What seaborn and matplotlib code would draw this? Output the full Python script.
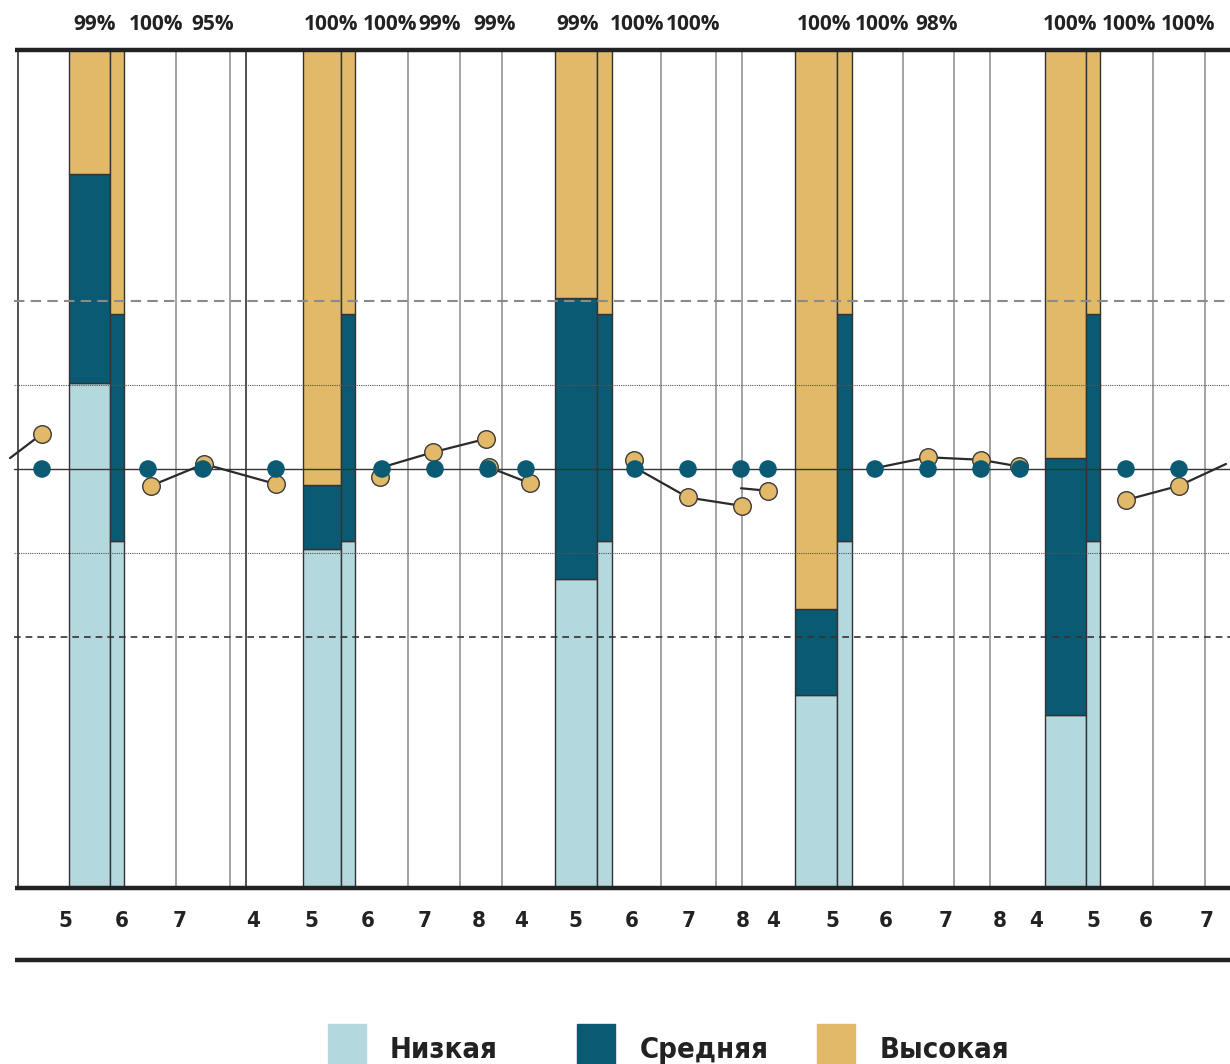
import numpy as np
import pandas as pd
import matplotlib
matplotlib.use('Agg')
import matplotlib.pyplot as plt
import seaborn as sns
from matplotlib.patches import Rectangle

# ---- data (percent) ----
levels = ['Низкая', 'Средняя', 'Высокая']
wide_low = [60.3, 40.5, 36.9, 23.0, 20.6]
wide_mid = [24.9, 7.6, 33.5, 10.3, 30.7]
wide_high = [14.8, 51.9, 29.6, 66.7, 48.7]
narrow_low = [41.4, 41.4, 41.4, 41.4, 41.4]
narrow_mid = [27.1, 27.1, 27.1, 27.1, 27.1]
narrow_high = [31.5, 31.5, 31.5, 31.5, 31.5]

grade_labels = ['5', '6', '7', '4', '5', '6', '7', '8', '4', '5', '6', '7', '8',
                '4', '5', '6', '7', '8', '4', '5', '6', '7']
pct_labels = ['99%', '100%', '95%', '100%', '100%', '99%', '99%', '99%', '100%',
              '100%', '100%', '100%', '98%', '100%', '100%', '100%']

teal_vals = [50.0, 50.0, 50.0, 50.0, 50.0, 50.0, 50.0, 50.0, 50.0,
             50.0, 50.0, 50.0, 50.0, 50.0, 50.0, 50.0, 50.0, 50.0]
gold_vals = [54.2, 48.0, 50.6, 48.2, 49.1, 52.0, 53.6, 50.2, 48.3,
             51.1, 46.6, 45.6, 47.4, 51.4, 51.1, 50.3, 46.3, 48.0]

# line series, one list per broken piece
line_vals = [[51.3, 54.2],
             [48.0, 50.6, 48.2],
             [50.2, 52.0, 53.6],
             [50.2, 48.3],
             [50.1, 46.6, 45.6],
             [47.7, 47.4],
             [50.1, 51.4, 51.1, 50.3],
             [46.3, 48.0, 50.6]]

# ---- layout (horizontal slots) ----
group_left = [69, 303, 555, 795, 1045]
wide_w = [41, 38, 42, 42, 41]
narrow_w = [14, 14, 15, 15, 14]
grade_x = [65, 122, 180, 253, 311, 368, 425, 479, 521, 575, 632, 689, 743,
           773, 832, 886, 946, 1000, 1036, 1093, 1146, 1207]
pct_x = [95, 156, 213, 331, 390, 440, 495, 578, 637, 693, 824, 882, 937,
         1070, 1129, 1188]
teal_x = [42, 148, 203, 276, 382, 435, 488, 526, 635, 688, 741, 768, 875,
          928, 981, 1020, 1126, 1179]
gold_x = [42, 151, 204, 276, 380, 433, 486, 489, 530, 634, 688, 742, 768,
          928, 981, 1019, 1126, 1179]
line_x = [[10, 42], [151, 204, 276], [382, 433, 486], [489, 530],
          [636, 688, 742], [741, 768], [875, 928, 981, 1019], [1126, 1179, 1226]]
vlines_x = [18, 124, 176, 230, 246, 355, 408, 460, 502, 612, 661, 716, 742,
            852, 903, 954, 990, 1100, 1153, 1205]

c_low = '#B3D8DE'
c_mid = '#0B5A73'
c_high = '#E2B968'

sns.set_theme(style='white')
plt.rcParams['font.family'] = ['Open Sans', 'DejaVu Sans']

fig = plt.figure(figsize=(12.3, 10.64), dpi=100)
ax = fig.add_axes([0, 176 / 1064, 1, 838 / 1064])
ax.set_xlim(0, 1230)
ax.set_ylim(0, 100)
ax.set_axis_off()

# column separators
for x in vlines_x:
    col = '#222222' if x in (18, 246) else '#8a8a8a'
    ax.plot([x, x], [0, 100], color=col, lw=1.1, zorder=1)

# stacked bars
wide_left = np.array(group_left)
narrow_left = wide_left + np.array(wide_w)
for left, width, lo, mi, hi in [(wide_left, wide_w, wide_low, wide_mid, wide_high),
                                (narrow_left, narrow_w, narrow_low, narrow_mid, narrow_high)]:
    lo = np.array(lo); mi = np.array(mi); hi = np.array(hi)
    kw = dict(align='edge', edgecolor='#333333', linewidth=1.0, zorder=2)
    ax.bar(left, lo, width, color=c_low, **kw)
    ax.bar(left, mi, width, bottom=lo, color=c_mid, **kw)
    ax.bar(left, hi, width, bottom=lo + mi, color=c_high, **kw)

# horizontal reference lines
ax.plot([14, 1230], [70, 70], color='#8a8a8a', lw=1.5, ls=(0, (5, 3)), zorder=3)
ax.plot([14, 1230], [60, 60], color='#555555', lw=0.8, ls=(0, (1, 1)), zorder=3)
ax.plot([14, 1230], [50, 50], color='#333333', lw=1.0, zorder=3)
ax.plot([14, 1230], [40, 40], color='#555555', lw=0.8, ls=(0, (1, 1)), zorder=3)
ax.plot([14, 1230], [30, 30], color='#333333', lw=1.2, ls=(0, (4, 3)), zorder=3)

# thick frame lines
ax.plot([15, 1230], [100, 100], color='#222222', lw=3.2, solid_capstyle='butt',
        zorder=4, clip_on=False)
ax.plot([15, 1230], [0, 0], color='#222222', lw=3.2, solid_capstyle='butt',
        zorder=4, clip_on=False)
ax.plot([15, 1230], [-8.6, -8.6], color='#222222', lw=3.2, solid_capstyle='butt',
        zorder=4, clip_on=False)

# lines
rows = []
for i, (xs, vs) in enumerate(zip(line_x, line_vals)):
    for x, v in zip(xs, vs):
        rows.append({'x': x, 'v': v, 'seg': i})
lines_df = pd.DataFrame(rows)
sns.lineplot(data=lines_df, x='x', y='v', units='seg', estimator=None, sort=False,
             color='#2a2a2a', lw=1.6, ax=ax, zorder=5, legend=False)

gold_df = pd.DataFrame({'x': gold_x, 'v': gold_vals})
sns.scatterplot(data=gold_df, x='x', y='v', color=c_high, edgecolor='#3a3a3a',
                linewidth=1.0, s=160, ax=ax, zorder=6, legend=False)
teal_df = pd.DataFrame({'x': teal_x, 'v': teal_vals})
sns.scatterplot(data=teal_df, x='x', y='v', color=c_mid, edgecolor='none',
                s=160, ax=ax, zorder=7, legend=False)
ax.set_axis_off()

# labels
for x, t in zip(pct_x, pct_labels):
    ax.text(x, 103.0, t, ha='center', va='center', fontsize=15, fontweight='bold',
            color='#222222', clip_on=False)
for x, t in zip(grade_x, grade_labels):
    ax.text(x, -3.9, t, ha='center', va='center', fontsize=16, fontweight='bold',
            color='#222222', family='DejaVu Sans', fontstretch='condensed',
            clip_on=False)

# legend
leg_sq_x = [328, 577, 817]
leg_tx_x = [390, 640, 880]
for sx, tx, lab, col in zip(leg_sq_x, leg_tx_x, levels, [c_low, c_mid, c_high]):
    fig.patches.append(Rectangle((sx / 1230, 0), 38 / 1230, 40 / 1064, color=col,
                                 transform=fig.transFigure, figure=fig))
    fig.text(tx / 1230, 6 / 1064, lab, ha='left', va='baseline', fontsize=21,
             fontweight='bold', color='#222222', family='DejaVu Sans',
             fontstretch='condensed')

fig.savefig('out.png', dpi=100)
